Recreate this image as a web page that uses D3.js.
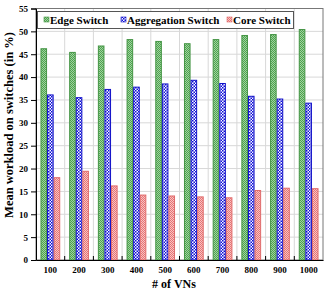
<!DOCTYPE html>
<html><head><meta charset="utf-8">
<script src="https://cdn.jsdelivr.net/npm/d3@7"></script>
<style>body{margin:0;background:#fff}svg{display:block}text{font-family:"Liberation Serif","Times New Roman",serif;font-weight:bold}</style>
</head><body><svg id="c" width="327" height="292"></svg>
<script>
const categories = ["100","200","300","400","500","600","700","800","900","1000"];
const seriesNames = ["Edge Switch","Aggregation Switch","Core Switch"];
const edgeValues = [46.2,45.4,46.8,48.2,47.8,47.3,48.2,49.1,49.3,50.4];
const aggregationValues = [36.1,35.5,37.3,37.8,38.5,39.3,38.6,35.8,35.2,34.3];
const coreValues = [18.0,19.4,16.2,14.2,14.0,13.8,13.6,15.2,15.7,15.6];
const yTicks = [0,5,10,15,20,25,30,35,40,45,50,55];

const svg = d3.select("#c");
const L=36, R=323, T=8.5, B=260;
const defs = svg.append("defs");
function pat(id, size, bg, fg, cell){
  const p = defs.append("pattern").attr("id",id).attr("patternUnits","userSpaceOnUse").attr("width",size).attr("height",size);
  p.append("rect").attr("width",size).attr("height",size).attr("fill",bg);
  p.append("rect").attr("x",0).attr("y",0).attr("width",cell).attr("height",cell).attr("fill",fg);
  p.append("rect").attr("x",cell).attr("y",cell).attr("width",cell).attr("height",cell).attr("fill",fg);
}
pat("pg",2,"#9fd39f","#4fa24f",1);
pat("pb",3,"#ffffff","#0b0bd8",1.5);
pat("pr",2,"#f7c4c4","#e77474",1);
const fills = ["url(#pg)","url(#pb)","url(#pr)"];
const strokes = ["#449444","#1010c8","#e06a6a"];
const data = [edgeValues, aggregationValues, coreValues];

const x = d3.scaleBand().domain(categories).range([L,R]).padding(0);
const sub = d3.scaleBand().domain(seriesNames).range([0,x.bandwidth()]).paddingInner(0).paddingOuter(0.68);
const y = d3.scaleLinear().domain([0,55]).range([B,T]);

// grid
svg.append("g").selectAll("line").data(yTicks.slice(1)).join("line")
  .attr("x1",L).attr("x2",R).attr("y1",d=>y(d)).attr("y2",d=>y(d)).attr("stroke","#d8d8d8").attr("stroke-width",1);
svg.append("g").selectAll("line").data(categories.slice(1)).join("line")
  .attr("x1",d=>x(d)).attr("x2",d=>x(d)).attr("y1",T).attr("y2",B).attr("stroke","#d8d8d8").attr("stroke-width",1);
// frame
svg.append("rect").attr("x",L).attr("y",T).attr("width",R-L).attr("height",B-T).attr("fill","none").attr("stroke","#777");

// bars
seriesNames.forEach((s,si)=>{
  svg.append("g").selectAll("rect").data(categories).join("rect")
    .attr("x",d=>x(d)+sub(s)+0.5).attr("width",sub.bandwidth()-1)
    .attr("y",(d,i)=>y(data[si][i])).attr("height",(d,i)=>B-y(data[si][i]))
    .attr("fill",fills[si]).attr("stroke",strokes[si]).attr("stroke-width",1);
});

// axes
const yAxis = d3.axisLeft(y).tickValues(yTicks).tickSize(5).tickPadding(3);
const gy = svg.append("g").attr("transform",`translate(${L},0)`).call(yAxis);
gy.select(".domain").attr("stroke","#000");
gy.selectAll("text").attr("font-size",9).attr("font-family","Liberation Serif").attr("font-weight","bold");
const xAxis = d3.axisBottom(x).tickSize(0).tickPadding(7);
const gx = svg.append("g").attr("transform",`translate(0,${B})`).call(xAxis);
gx.select(".domain").attr("stroke","#000");
gx.selectAll("text").attr("font-size",9).attr("font-family","Liberation Serif").attr("font-weight","bold");
svg.append("g").selectAll("line").data(categories.slice(1)).join("line")
  .attr("x1",d=>x(d)).attr("x2",d=>x(d)).attr("y1",B-4).attr("y2",B).attr("stroke","#000");

// titles
svg.append("text").attr("x",174).attr("y",288).attr("text-anchor","middle").attr("font-size",12).text("# of VNs");
svg.append("text").attr("transform","translate(13,125) rotate(-90)").attr("text-anchor","middle").attr("font-size",12.5).text("Mean workload on switches (in %)");

// legend
const lg = svg.append("g");
lg.append("rect").attr("x",37.5).attr("y",11.5).attr("width",256).attr("height",17).attr("fill","#fff").attr("stroke","#555");
const lx = [44,121,227];
seriesNames.forEach((s,i)=>{
  lg.append("rect").attr("x",lx[i]).attr("y",17).attr("width",5).attr("height",5).attr("fill",fills[i]).attr("stroke",strokes[i]).attr("stroke-width",0.6);
  lg.append("text").attr("x",lx[i]+6).attr("y",24).attr("font-size",11).text(s);
});
</script></body></html>
